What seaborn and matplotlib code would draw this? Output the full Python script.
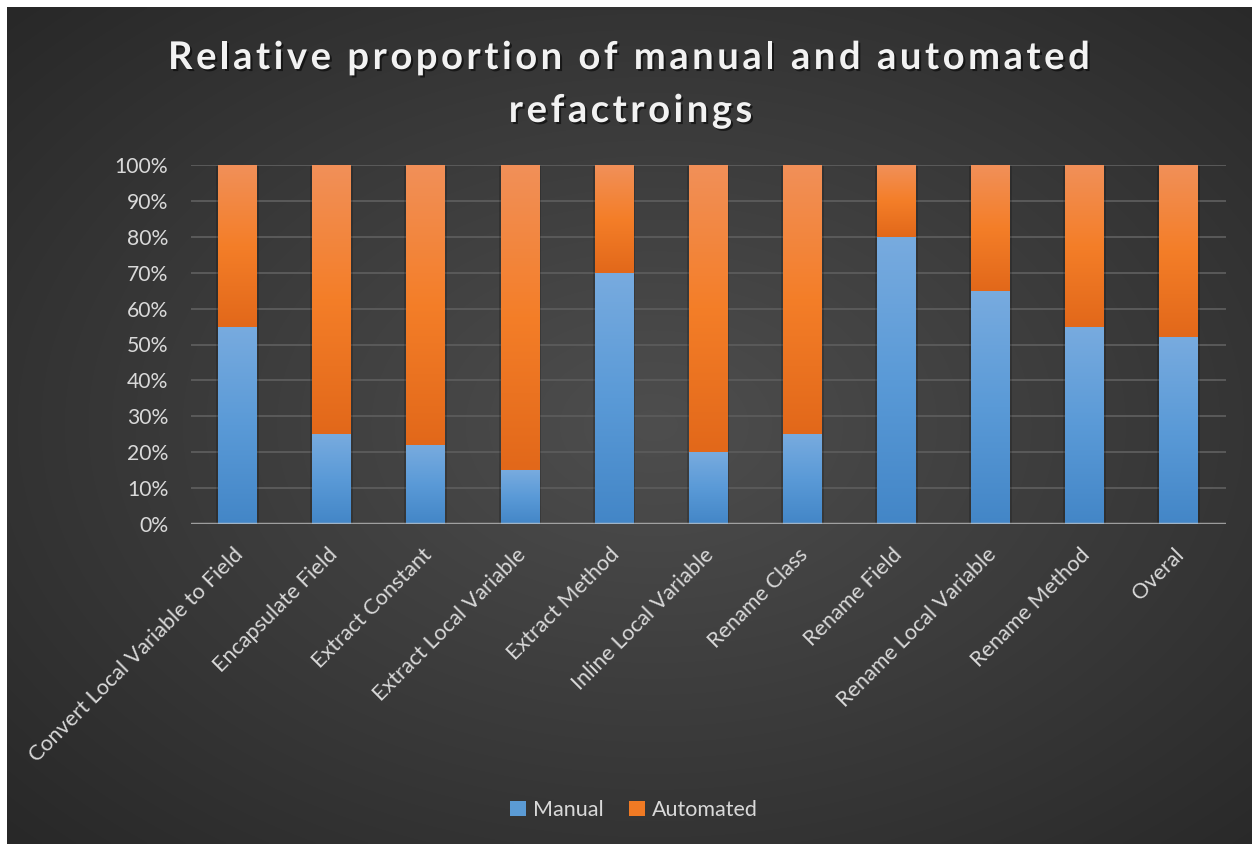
import numpy as np
import pandas as pd
import matplotlib
matplotlib.use("Agg")
import matplotlib.pyplot as plt
import seaborn as sns
from matplotlib import patheffects as pe
from matplotlib.patches import Patch
from matplotlib.font_manager import FontProperties
from matplotlib.colors import LinearSegmentedColormap
from matplotlib.transforms import ScaledTranslation

# ---- data ----
categories = ["Convert Local Variable to Field", "Encapsulate Field", "Extract Constant",
              "Extract Local Variable", "Extract Method", "Inline Local Variable",
              "Rename Class", "Rename Field", "Rename Local Variable", "Rename Method", "Overal"]
manual = [55, 25, 22, 15, 70, 20, 25, 80, 65, 55, 52]
automated = [45, 75, 78, 85, 30, 80, 75, 20, 35, 45, 48]
series_names = ["Manual", "Automated"]
y_ticks = [0, 10, 20, 30, 40, 50, 60, 70, 80, 90, 100]
title_lines = ["Relative proportion of manual and automated", "refactroings"]

W, H = 1252, 844
sns.set_theme(style="dark")
plt.rcParams["font.family"] = ["Lato", "DejaVu Sans"]

fig = plt.figure(figsize=(W / 100, H / 100), dpi=100)
fig.patch.set_facecolor("white")

# background radial gradient (chart area starts 7px from left/top)
bg = fig.add_axes([7 / W, 0, 1 - 7 / W, 1 - 7 / H])
bg.set_axis_off()
yy, xx = np.mgrid[0:1:300j, 0:1:400j]
r = np.sqrt(((xx - 0.52) / 0.75) ** 2 + ((yy - 0.5) / 0.75) ** 2)
r = np.clip(r / r.max(), 0, 1)
c0 = np.array([0x4e, 0x4e, 0x4e]) / 255
c1 = np.array([0x28, 0x28, 0x28]) / 255
img = c0[None, None, :] * (1 - r[..., None]) + c1[None, None, :] * r[..., None]
bg.imshow(img, aspect="auto", extent=(0, 1, 0, 1), interpolation="bilinear")
bg.set_xlim(0, 1)
bg.set_ylim(0, 1)
bg.set_zorder(-10)

# plot area
L, R, T, B = 190.5, 1225.7, 165, 524
ax = fig.add_axes([L / W, 1 - B / H, (R - L) / W, (B - T) / H])
ax.set_facecolor("none")

df = pd.DataFrame({"category": categories, "manual": manual, "automated": automated})
df["total"] = df["manual"] + df["automated"]

orange_mid = "#f37d27"
blue_mid = "#5b9bd5"
bw = 0.41
sns.barplot(data=df, x="category", y="total", color=orange_mid, width=bw, ax=ax,
            saturation=1, linewidth=0, zorder=2)
n_or = len(ax.patches)
sns.barplot(data=df, x="category", y="manual", color=blue_mid, width=bw, ax=ax,
            saturation=1, linewidth=0, zorder=4)

orange_cmap = LinearSegmentedColormap.from_list("o", [(0, "#e2681a"), (0.5, "#f47e28"), (1, "#f19059")])
blue_cmap = LinearSegmentedColormap.from_list("b", [(0, "#4386c7"), (0.5, "#5a9ad7"), (1, "#78abdf")])
grad = np.linspace(0, 1, 256)[:, None]

shadow = [pe.SimplePatchShadow(offset=(-1.5, -0.5), shadow_rgbFace="black", alpha=0.18),
          pe.SimplePatchShadow(offset=(1.5, -0.5), shadow_rgbFace="black", alpha=0.18),
          pe.Normal()]
for i, p in enumerate(ax.patches):
    x0 = p.get_x()
    w = p.get_width()
    h = p.get_height()
    if i < n_or:
        lo = df["manual"].iloc[i]
        cm = orange_cmap
        z = 3
        p.set_path_effects(shadow)
    else:
        lo = 0
        cm = blue_cmap
        z = 5
    im = ax.imshow(grad, cmap=cm, origin="lower", aspect="auto",
                   extent=(x0, x0 + w, lo, h), zorder=z, interpolation="bilinear")
    im.set_clip_path(p)

ax.set_xlim(-0.5, len(categories) - 0.5)
ax.set_ylim(0, 100)
ax.set_aspect("auto")
ax.set_yticks(y_ticks)
ax.set_yticklabels([f"{v}%" for v in y_ticks])
ax.set_xticks(range(len(categories)))
ax.set_xticklabels([])
lab_tr = ax.get_xaxis_transform() + ScaledTranslation(-0.045, -0.205, fig.dpi_scale_trans)
for i, c in enumerate(categories):
    ax.text(i, 0, c, transform=lab_tr, rotation=45, ha="right", va="top",
            rotation_mode="anchor", fontsize=15.6, color="#d9d9d9", clip_on=False)
ax.set_xlabel("")
ax.set_ylabel("")
for s in ax.spines.values():
    s.set_visible(False)
ax.tick_params(axis="both", length=0, colors="#d9d9d9")
ax.tick_params(axis="y", pad=16, labelsize=15.2)
for v in y_ticks[1:]:
    ax.axhline(v, color="#5a5a5a", lw=1.4, zorder=1)
ax.axhline(0, color="#c8c8c8", lw=2.5, alpha=0.7, zorder=7)

# legend
handles = [Patch(facecolor="#5b9bd5", edgecolor="none"), Patch(facecolor="#f07a24", edgecolor="none")]
leg = fig.legend(handles, series_names, loc="center", bbox_to_anchor=(634 / W, 1 - 810 / H),
                 ncol=2, frameon=False, fontsize=15.5, handlelength=0.75, handleheight=0.75,
                 handletextpad=0.3, columnspacing=1.2)
for t in leg.get_texts():
    t.set_color("#d9d9d9")

# title with letter spacing
fig.canvas.draw()
rend = fig.canvas.get_renderer()
fp = FontProperties(family=["Lato", "DejaVu Sans"], weight="bold", size=27.5)

def adv(ch):
    w1 = rend.get_text_width_height_descent("H" + ch + "H", fp, ismath=False)[0]
    w0 = rend.get_text_width_height_descent("HH", fp, ismath=False)[0]
    return w1 - w0

advs0 = [adv(c) for c in title_lines[0]]
spacing = (922 - sum(advs0)) / (len(title_lines[0]) - 1)
tshadow = [pe.SimplePatchShadow(offset=(1.5, -1.5), shadow_rgbFace="black", alpha=0.55), pe.Normal()]
for line, xc, yb in [(title_lines[0], 629, 69), (title_lines[1], 630.5, 122)]:
    a = [adv(c) for c in line]
    total = sum(a) + spacing * (len(line) - 1)
    x = xc - total / 2
    for ch, w in zip(line, a):
        if ch != " ":
            fig.text(x / W, 1 - yb / H, ch, fontproperties=fp, color="#f2f2f2",
                     ha="left", va="baseline", path_effects=tshadow)
        x += w + spacing

fig.savefig("out.png", dpi=100, facecolor=fig.get_facecolor())
